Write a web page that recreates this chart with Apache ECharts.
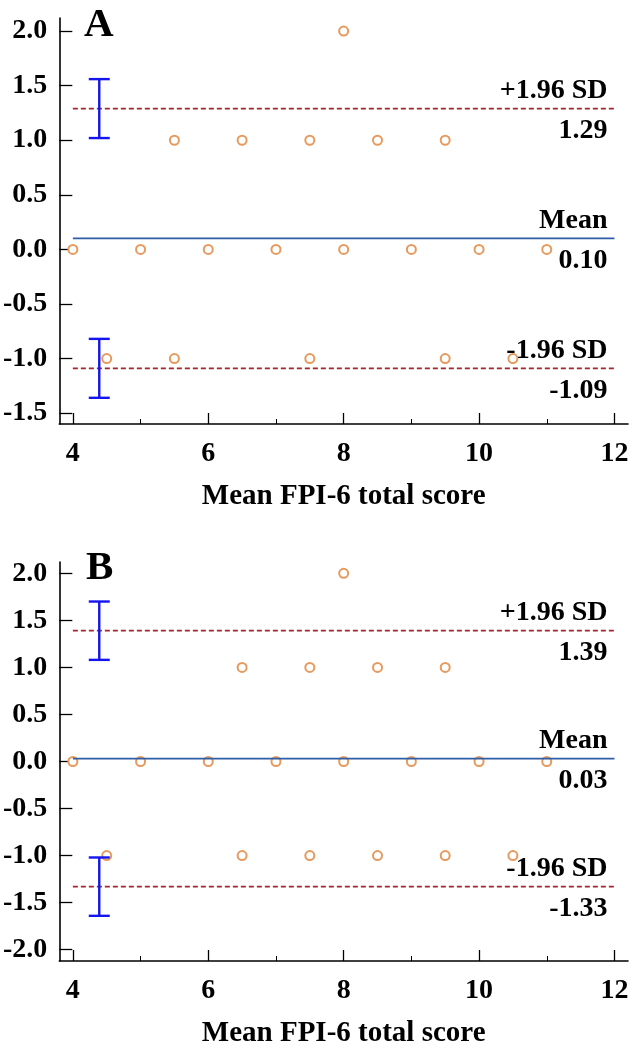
<!DOCTYPE html>
<html>
<head>
<meta charset="utf-8">
<script src="https://cdn.jsdelivr.net/npm/echarts@6/dist/echarts.min.js"></script>
<style>
html,body{margin:0;padding:0;background:#fff;}
#chart{width:633px;height:1049px;}
</style>
</head>
<body>
<div id="chart"></div>
<script>
// ---------- data ----------
const panelLetters = ['A', 'B'];
const xTickValues = [4, 6, 8, 10, 12];
const xMinorValues = [5, 7, 9, 11];
const yTicksA = [-1.5, -1.0, -0.5, 0.0, 0.5, 1.0, 1.5, 2.0];
const yTicksB = [-2.0, -1.5, -1.0, -0.5, 0.0, 0.5, 1.0, 1.5, 2.0];
const xAxisTitle = 'Mean FPI-6 total score';

// Panel A: [mean score, difference]
const pointsA = [
  [8, 2],
  [5.5, 1], [6.5, 1], [7.5, 1], [8.5, 1], [9.5, 1],
  [4, 0], [5, 0], [6, 0], [7, 0], [8, 0], [9, 0], [10, 0], [11, 0],
  [4.5, -1], [5.5, -1], [7.5, -1], [9.5, -1], [10.5, -1]
];
const meanA = 0.10, upperA = 1.29, lowerA = -1.09;
const ciUpperA = [1.02, 1.56];
const ciLowerA = [-1.36, -0.82];

// Panel B
const pointsB = [
  [8, 2],
  [6.5, 1], [7.5, 1], [8.5, 1], [9.5, 1],
  [4, 0], [5, 0], [6, 0], [7, 0], [8, 0], [9, 0], [10, 0], [11, 0],
  [4.5, -1], [6.5, -1], [7.5, -1], [8.5, -1], [9.5, -1], [10.5, -1]
];
const meanB = 0.03, upperB = 1.39, lowerB = -1.33;
const ciUpperB = [1.08, 1.70];
const ciLowerB = [-1.64, -1.02];

const lineRange = [4, 12];
const ciX = 4.39;
const xRange = [3.8, 12.2];
const yRangeA = [-1.6, 2.12];
const yRangeB = [-2.12, 2.12];

// ---------- styles ----------
const FONT = '"Liberation Serif", "Times New Roman", serif';
const BLACK = '#000';
const PT_COLOR = '#E69A5E';
const DASH_COLOR = '#A3262C';
const MEAN_COLOR = '#2F5DA6';
const CI_COLOR = '#1414EE';

const grids = [
  { left: 59, top: 18, width: 569, height: 406 },
  { left: 59, top: 562, width: 569, height: 404 }
];

function mainX(gi) {
  return {
    type: 'value', gridIndex: gi, position: 'bottom',
    min: xRange[0], max: xRange[1],
    axisLine: { onZero: false, lineStyle: { color: BLACK, width: 1.6 } },
    axisTick: { inside: true, length: 11, customValues: xTickValues, lineStyle: { color: BLACK, width: 1.3 } },
    axisLabel: { customValues: xTickValues, margin: 16, color: BLACK, fontFamily: FONT, fontWeight: 'bold', fontSize: 28 },
    splitLine: { show: false },
    name: xAxisTitle, nameLocation: 'middle', nameGap: 58,
    nameTextStyle: { color: BLACK, fontFamily: FONT, fontWeight: 'bold', fontSize: 29 }
  };
}
function minorX(gi) {
  return {
    type: 'value', gridIndex: gi, position: 'bottom',
    min: xRange[0], max: xRange[1],
    axisLine: { show: false, onZero: false },
    axisTick: { inside: true, length: 5, customValues: xMinorValues, lineStyle: { color: BLACK, width: 1 } },
    axisLabel: { show: false },
    splitLine: { show: false }
  };
}
function yAx(gi, range, ticks) {
  return {
    type: 'value', gridIndex: gi, min: range[0], max: range[1],
    axisLine: { show: true, onZero: false, lineStyle: { color: BLACK, width: 1.6 } },
    axisTick: { show: true, inside: true, length: 13, customValues: ticks, lineStyle: { color: BLACK, width: 1.3 } },
    axisLabel: { customValues: ticks, margin: 12, color: BLACK, fontFamily: FONT, fontWeight: 'bold', fontSize: 28,
      formatter: v => v.toFixed(1) },
    splitLine: { show: false }
  };
}

function hLine(xi, yi, v, color, type) {
  return {
    type: 'line', xAxisIndex: xi, yAxisIndex: yi, symbol: 'none', silent: true, z: 4,
    lineStyle: { color: color, width: 1.8, type: type, opacity: 1 },
    data: [[lineRange[0], v], [lineRange[1], v]]
  };
}
function textPt(xi, yi, v, txt, dy) {
  return {
    type: 'scatter', xAxisIndex: xi, yAxisIndex: yi, symbolSize: 0, silent: true, z: 6,
    itemStyle: { opacity: 1 },
    data: [[lineRange[1], v]],
    label: { show: true, position: 'left', distance: 7, offset: [0, dy], formatter: txt,
      color: BLACK, fontFamily: FONT, fontWeight: 'bold', fontSize: 28 }
  };
}
function ciSeries(xi, yi, data) {
  return {
    type: 'custom', xAxisIndex: xi, yAxisIndex: yi, silent: true, z: 5,
    data: data,
    renderItem: function (params, api) {
      const top = api.coord([api.value(0), api.value(2)]);
      const bot = api.coord([api.value(0), api.value(1)]);
      const hw = 10.5;
      const st = { stroke: CI_COLOR, lineWidth: 2.4 };
      return { type: 'group', children: [
        { type: 'line', shape: { x1: top[0], y1: top[1], x2: bot[0], y2: bot[1] }, style: st },
        { type: 'line', shape: { x1: top[0] - hw, y1: top[1], x2: top[0] + hw, y2: top[1] }, style: st },
        { type: 'line', shape: { x1: bot[0] - hw, y1: bot[1], x2: bot[0] + hw, y2: bot[1] }, style: st }
      ]};
    }
  };
}
function panelSeries(xi, yi, pts, mean, up, lo, ciU, ciL) {
  return [
    { type: 'scatter', xAxisIndex: xi, yAxisIndex: yi, symbol: 'emptyCircle', symbolSize: 9, z: 3,
      itemStyle: { color: PT_COLOR, borderColor: PT_COLOR, borderWidth: 1.2, opacity: 1 }, data: pts },
    hLine(xi, yi, mean, MEAN_COLOR, 'solid'),
    hLine(xi, yi, up, DASH_COLOR, [5, 3]),
    hLine(xi, yi, lo, DASH_COLOR, [5, 3]),
    textPt(xi, yi, mean, 'Mean', -18),
    textPt(xi, yi, mean, mean.toFixed(2), 22),
    textPt(xi, yi, up, '+1.96 SD', -18),
    textPt(xi, yi, up, up.toFixed(2), 22),
    textPt(xi, yi, lo, '-1.96 SD', -18),
    textPt(xi, yi, lo, lo.toFixed(2), 22),
    ciSeries(xi, yi, [[ciX, ciU[0], ciU[1]], [ciX, ciL[0], ciL[1]]])
  ];
}

const chart = echarts.init(document.getElementById('chart'), null, { renderer: 'canvas' });
chart.setOption({
  animation: false,
  backgroundColor: '#fff',
  title: [
    { text: panelLetters[0], left: 79, top: 0, textStyle: { color: BLACK, fontFamily: FONT, fontWeight: 'bold', fontSize: 41 } },
    { text: panelLetters[1], left: 81, top: 543, textStyle: { color: BLACK, fontFamily: FONT, fontWeight: 'bold', fontSize: 41 } }
  ],
  grid: grids,
  xAxis: [mainX(0), minorX(0), mainX(1), minorX(1)],
  yAxis: [yAx(0, yRangeA, yTicksA), yAx(1, yRangeB, yTicksB)],
  series: [].concat(
    panelSeries(0, 0, pointsA, meanA, upperA, lowerA, ciUpperA, ciLowerA),
    panelSeries(2, 1, pointsB, meanB, upperB, lowerB, ciUpperB, ciLowerB)
  )
});
</script>
</body>
</html>
